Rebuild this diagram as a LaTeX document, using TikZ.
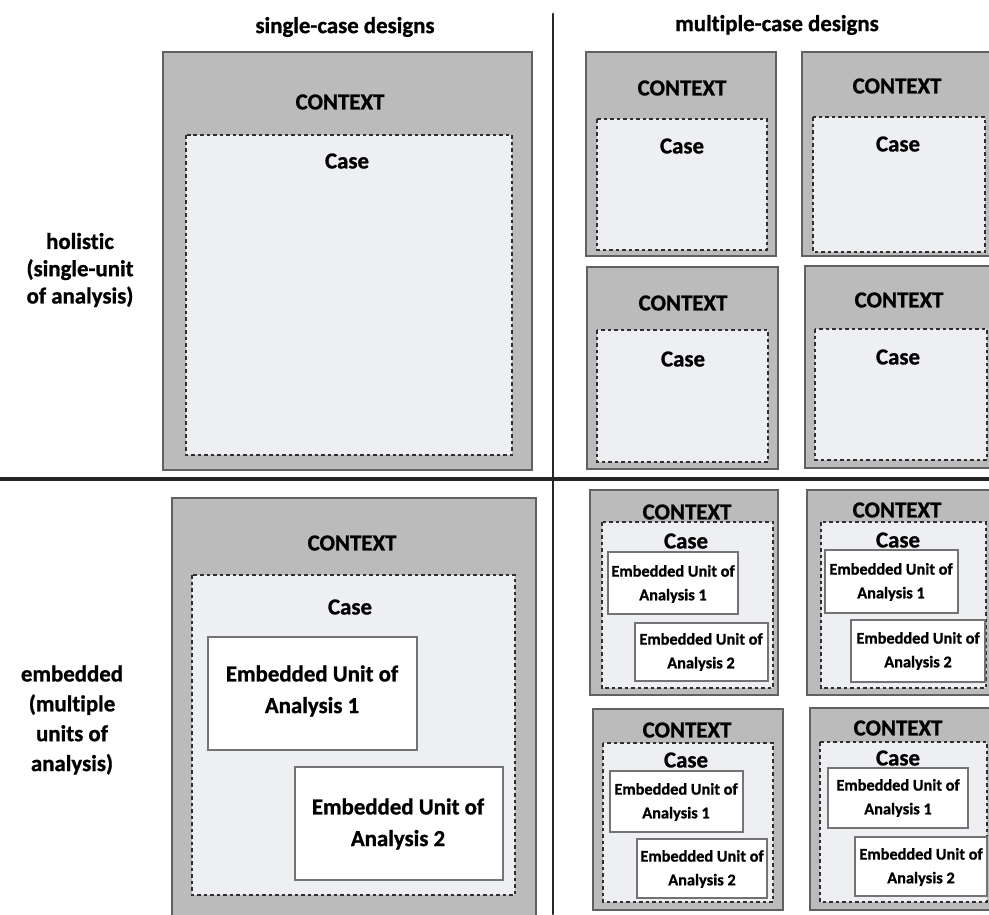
\documentclass[tikz,border=0pt]{standalone}
\usepackage{fontspec}
\setmainfont{Carlito}[Ligatures=NoCommon,BoldFeatures={FakeBold=1}]
\usepackage{tikz}

\definecolor{ctxgray}{HTML}{BBBBBB}
\definecolor{casegray}{HTML}{EEEFF2}

\begin{document}
\begin{tikzpicture}[x=0.02cm,y=-0.02cm,thick,line cap=round]
	\tikzstyle{ctx}=[draw=black!62,line width=1.4pt,fill=ctxgray];
	\tikzstyle{cas}=[draw=black!82,line width=1.6pt,line cap=butt,dash pattern=on 2.2pt off 1.5pt,fill=casegray];
	\tikzstyle{unit}=[draw=black!55,line width=0.9pt,fill=white];
	\tikzstyle{big}=[font=\bfseries\fontsize{13}{18}\selectfont,align=center];
	\tikzstyle{small}=[font=\bfseries\fontsize{9.3}{13.5}\selectfont,align=center];
	\useasboundingbox (0,0) rectangle (989,914);

	% headings and dividers
	\node[big] (hsingle) at (345,27) {single-case designs};
	\node[big] (hmulti)  at (777,25) {multiple-case designs};
	\node[big,font=\bfseries\fontsize{13}{15.5}\selectfont] (rhol) at (80,270) {holistic\\(single-unit\\of analysis)};
	\node[big,font=\bfseries\fontsize{13}{17}\selectfont] (remb) at (72,720) {embedded\\(multiple\\units of\\analysis)};
	\draw[line width=1.6pt,black!85] (553,14) -- (553,914);
	\draw[line width=1.8pt,black!85] (0,479) -- (989,479);

	% single case, holistic
	\draw[ctx] (163,52)  rectangle (532,470);
	\draw[cas] (186,135) rectangle (512,455);
	\node[big] (ctxa)  at (340,102) {CONTEXT};
	\node[big] (casea) at (347,161) {Case};

	% multiple case, holistic
	\draw[ctx] (586,52)  rectangle (776,256);
	\draw[cas] (597,119) rectangle (767,250);
	\node[big] (ctxb)  at (682,88)  {CONTEXT};
	\node[big] (caseb) at (682,146) {Case};
	\draw[ctx] (802,52)  rectangle (992,256);
	\draw[cas] (813,117) rectangle (985,252);
	\node[big] (ctxc)  at (897,86)  {CONTEXT};
	\node[big] (casec) at (898,144) {Case};
	\draw[ctx] (587,267) rectangle (778,469);
	\draw[cas] (597,330) rectangle (768,462);
	\node[big] (ctxd)  at (683,303) {CONTEXT};
	\node[big] (cased) at (683,359) {Case};
	\draw[ctx] (805,266) rectangle (992,468);
	\draw[cas] (815,329) rectangle (987,460);
	\node[big] (ctxe)  at (899,300) {CONTEXT};
	\node[big] (casee) at (898,357) {Case};

	% single case, embedded
	\draw[ctx] (172,498) rectangle (536,916);
	\draw[cas] (192,575) rectangle (515,895);
	\node[big] (ctxf)  at (352,543) {CONTEXT};
	\node[big] (casef) at (350,607) {Case};
	\draw[unit] (208,637) rectangle (417,750);
	\draw[unit] (295,767) rectangle (503,880);
	\node[big] (unitf1) at (312,691) {Embedded Unit of\\Analysis 1};
	\node[big] (unitf2) at (398,824) {Embedded Unit of\\Analysis 2};

	% multiple case, embedded
	\draw[ctx] (590,490) rectangle (778,695);
	\draw[cas] (602,522) rectangle (773,688);
	\node[big] (ctxg)  at (687,512) {CONTEXT};
	\node[big] (caseg) at (686,541) {Case};
	\draw[unit] (608,552) rectangle (738,614);
	\draw[unit] (635,623) rectangle (768,681);
	\node[small] (unitg1) at (673,584) {Embedded Unit of\\Analysis 1};
	\node[small] (unitg2) at (701,652) {Embedded Unit of\\Analysis 2};

	\draw[ctx] (807,490) rectangle (992,695);
	\draw[cas] (821,522) rectangle (986,688);
	\node[big] (ctxh)  at (897,510) {CONTEXT};
	\node[big] (caseh) at (898,540) {Case};
	\draw[unit] (825,550) rectangle (958,613);
	\draw[unit] (851,620) rectangle (985,682);
	\node[small] (unith1) at (891,582) {Embedded Unit of\\Analysis 1};
	\node[small] (unith2) at (918,651) {Embedded Unit of\\Analysis 2};

	\draw[ctx] (593,709) rectangle (783,910);
	\draw[cas] (603,743) rectangle (773,902);
	\node[big] (ctxi)  at (687,730) {CONTEXT};
	\node[big] (casei) at (686,760) {Case};
	\draw[unit] (610,771) rectangle (743,832);
	\draw[unit] (637,839) rectangle (767,898);
	\node[small] (uniti1) at (676,802) {Embedded Unit of\\Analysis 1};
	\node[small] (uniti2) at (702,869) {Embedded Unit of\\Analysis 2};

	\draw[ctx] (810,708) rectangle (992,910);
	\draw[cas] (820,742) rectangle (987,902);
	\node[big] (ctxj)  at (898,728) {CONTEXT};
	\node[big] (casej) at (898,758) {Case};
	\draw[unit] (828,768) rectangle (968,828);
	\draw[unit] (855,837) rectangle (987,896);
	\node[small] (unitj1) at (898,798) {Embedded Unit of\\Analysis 1};
	\node[small] (unitj2) at (921,867) {Embedded Unit of\\Analysis 2};
\end{tikzpicture}
\end{document}
